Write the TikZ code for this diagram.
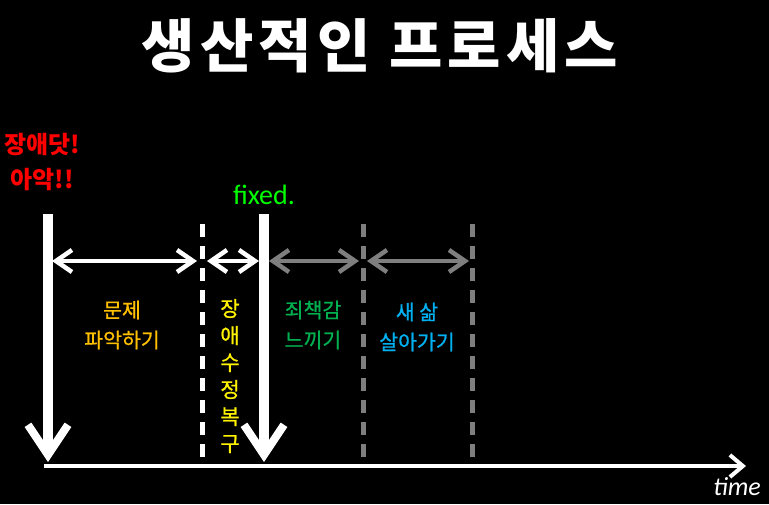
\documentclass[tikz,border=0pt]{standalone}
\usepackage{fontspec}
\setmainfont{Carlito}
\newfontfamily\kr{Noto Sans CJK KR}
\newfontfamily\krm[FakeBold=0.8]{Noto Sans CJK KR}
\usetikzlibrary{arrows.meta}
\definecolor{korange}{HTML}{FFC000}
\definecolor{kgreen}{HTML}{00B050}
\definecolor{kblue}{HTML}{00B0F0}
\definecolor{kgray}{HTML}{7F7F7F}
\begin{document}
\begin{tikzpicture}[x=1pt,y=-1pt,
  bigarrow/.style={draw=white,line width=10pt,-{Straight Barb[length=30pt,width=40pt,line width=8pt]}},
  span/.style={line width=4pt,{Straight Barb[length=16pt,width=22pt,line width=4.5pt]}-{Straight Barb[length=16pt,width=22pt,line width=4.5pt]}},
  tick/.style={line width=5pt,dash pattern=on 13pt off 9pt},
  lbl/.style={font=\krm\fontsize{20.5}{24}\selectfont,align=center,inner sep=0pt}]
\fill[black] (0,0) rectangle (769,504);
\useasboundingbox (0,0) rectangle (769,504);
% title
\node[text=white,font=\kr\bfseries\fontsize{58}{60}\selectfont\addfontfeature{LetterSpace=9},inner sep=0pt] (title) at (380,46) {생산적인 프로세스};
% shout
\node[text=red,font=\kr\bfseries\fontsize{24}{35}\selectfont,align=center,inner sep=0pt] (shout) at (42,162) {장애닷!\\아악!!};
\node[text=green,font=\fontsize{28}{30}\selectfont,inner sep=0pt] (fixed) at (264,195) {fixed.};
% coordinates
\coordinate (a1) at (48,214);
\coordinate (a1e) at (48,462);
\coordinate (a2) at (264,214);
\coordinate (a2e) at (264,462);
\coordinate (d1) at (202,224);
\coordinate (d1e) at (202,464);
\coordinate (d2) at (363,224);
\coordinate (d2e) at (363,464);
\coordinate (d3) at (472,224);
\coordinate (d3e) at (472,464);
\coordinate (t0) at (44,466);
\coordinate (t1) at (746,466);
% markers
\draw[tick,white] (d1) -- (d1e);
\draw[tick,kgray] (d2) -- (d2e);
\draw[tick,kgray] (d3) -- (d3e);
% axis
\draw[white,line width=4pt,-{Straight Barb[length=13pt,width=22pt,line width=4pt]}] (t0) -- (t1);
\node[text=white,font=\itshape\fontsize{26}{28}\selectfont,inner sep=0pt] (time) at (737,487) {time};
% big arrows
\draw[bigarrow] (a1) -- (a1e);
\draw[bigarrow] (a2) -- (a2e);
% spans
\coordinate (s1a) at (52,261);
\coordinate (s1b) at (197,261);
\coordinate (s2a) at (207,261);
\coordinate (s2b) at (259,261);
\coordinate (s3a) at (269,261);
\coordinate (s3b) at (359,261);
\coordinate (s4a) at (367,261);
\coordinate (s4b) at (469,261);
\draw[span,white] (s1a) -- (s1b);
\draw[span,white] (s2a) -- (s2b);
\draw[span,kgray] (s3a) -- (s3b);
\draw[span,kgray] (s4a) -- (s4b);
% labels
\node[lbl,text=korange] (l1) at (122,325) {문제\\[6pt]파악하기};
\node[lbl,text=yellow,font=\krm\fontsize{21}{27}\selectfont] (l2) at (230,376) {장\\애\\수\\정\\복\\구};
\node[lbl,text=kgreen] (l3) at (313,325) {죄책감\\[6pt]느끼기};
\node[lbl,text=kblue] (l4) at (417,327) {새 삶\\[6pt]살아가기};
\end{tikzpicture}
\end{document}
